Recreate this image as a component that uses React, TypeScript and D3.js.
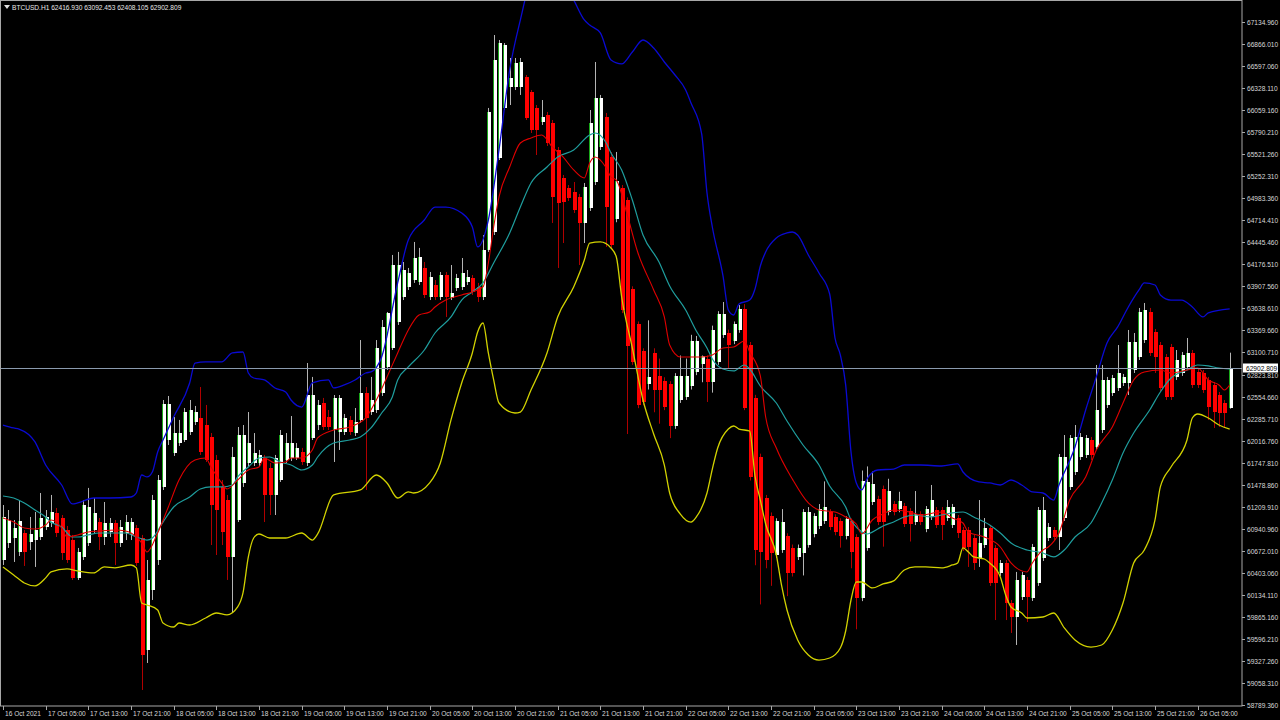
import React from 'react';
import * as d3 from 'd3';

// ---------- data ----------
const symbolTitle = 'BTCUSD.H1';
const lastOHLC = [62416.93, 63092.453, 62408.105, 62902.809];
const lastPrice = 62902.809;

// hourly candles: [open, high, low, close], first bar = 16 Oct 2021 21:00
const candles: [number, number, number, number][] = [
  [60558,61230,60497,61084],[60766,61169,60705,61047],[60827,61047,60534,60949],[60656,61291,60607,61035],
  [60888,60925,60485,60656],[60778,61084,60680,60876],[60802,61145,60473,60925],[60839,61377,60802,61071],
  [60961,61169,60925,61084],[61010,61353,60961,61145],[61133,61194,60839,60888],[61071,61108,60558,60644],
  [60925,60974,60522,60558],[60802,60864,60314,60339],[60339,60705,60314,60656],[60595,61291,60558,61230],
  [60766,61439,60729,61206],[60925,61316,60888,61133],[61022,61071,60680,60839],[60839,61267,60741,61010],
  [60900,61071,60839,61010],[61010,61047,60497,60766],[60766,61047,60717,60961],[60888,61108,60802,61022],
  [60864,61071,60802,61022],[60949,60986,60485,60522],[60827,60864,58969,59397],[59458,60558,59299,60314],
  [60191,61353,60069,61291],[60558,61597,60497,61536],[61451,62514,61414,62465],[62025,62563,61964,62465],
  [61866,62306,61830,62110],[61988,62270,61952,62110],[62025,62416,62001,62367],[62123,62514,62086,62392],
  [62245,62441,62208,62367],[62294,62673,61842,61879],[62208,62453,61756,61781],[62062,62110,60741,61230],
  [61781,61842,60619,61169],[61451,61536,60741,60900],[61291,61353,60314,60595],[60595,61940,59922,61817],
  [61047,62184,61022,62086],[61500,62208,61451,62086],[61744,62367,61707,61988],[61744,62110,61707,61866],
  [61744,61903,61707,61842],[61805,61842,61022,61353],[61683,61744,61108,61353],[61353,61842,61108,61805],
  [61536,62147,61512,62086],[61781,62110,61744,61988],[61805,62318,61768,61988],[61805,61988,61781,61928],
  [61879,61928,61719,61756],[61744,62966,61707,62575],[62050,62796,62025,62575],[62208,62514,62147,62453],
  [62477,62539,62147,62184],[62306,62392,62147,62184],[62147,62575,61756,62539],[62123,62575,61903,62539],
  [62123,62343,62086,62294],[62270,62318,62086,62123],[62110,62416,62074,62245],[62270,63247,62233,62600],
  [62600,62673,61414,62294],[62367,62796,62331,62514],[62392,63247,62355,63150],[62600,63492,62563,63407],
  [62918,63590,62881,63578],[63150,64287,63125,64164],[63468,64324,63431,64164],[63773,64201,63736,64103],
  [63896,64128,63859,64067],[63981,64446,63945,64250],[63957,64373,63920,64263],[64128,64201,63761,63798],
  [63773,64079,63736,64018],[63920,63981,63736,63773],[63773,64079,63736,64042],[64042,64079,63529,63773],
  [63761,64164,63736,63822],[63884,64055,63847,64006],[63896,64250,63859,64067],[63957,64103,63920,64018],
  [64006,64042,63798,63835],[63896,63945,63712,63773],[63773,64531,63736,64348],[64348,66084,64324,66035],
  [64568,66976,64531,66670],[65472,66915,65448,66878],[66084,66878,66059,66854],[66340,66695,66120,66450],
  [66340,66695,66304,66634],[66340,66695,66243,66646],[66463,66487,65937,65961],[66279,66304,65778,65815],
  [66084,66120,65509,65815],[65913,66181,65876,65974],[65998,66035,65619,65656],[65900,65937,64678,64996],
  [65570,65607,64128,64922],[65228,65265,64433,64935],[65106,65142,64947,64984],[65057,65179,64800,64837],
  [64996,65033,64164,64678],[64678,65167,64433,65118],[64861,66059,64825,65900],[65179,66646,65142,66206],
  [65607,66243,65570,66206],[65974,66023,64385,64873],[65482,65546,64371,64409],[64725,65546,64687,65192],
  [65104,65142,63576,63614],[64953,64991,62098,63172],[63867,63904,62944,62983],[63437,63474,62414,62451],
  [63109,63146,62451,62489],[62705,63488,62642,62792],[63083,63146,62364,62642],[62807,63020,62224,62642],
  [62744,62792,62390,62427],[62705,62744,62048,62199],[62199,62842,62161,62807],[62515,63058,62478,62807],
  [62552,63020,62515,62807],[62680,63311,62642,63234],[62856,63297,62818,63234],[62957,63058,62731,63046],
  [63020,63058,62490,62731],[62731,63423,62604,63374],[62983,63600,62944,63563],[63311,63712,63273,63563],
  [63336,63374,62895,63186],[63234,63474,63197,63437],[63374,63674,63336,63624],[63624,63686,62390,62415],
  [63186,63223,61530,61567],[62539,62577,60494,60681],[61820,61858,60015,60656],[61315,61353,60457,60557],
  [61101,61139,60242,60643],[60620,61068,60584,61030],[60684,61180,60645,61018],[60847,60884,60116,60393],
  [60709,60747,60356,60393],[60596,60747,60558,60709],[60646,61180,60369,61142],[60747,61205,60709,61142],
  [60873,61130,60835,61092],[60974,61242,60936,61180],[61036,61519,60999,61205],[61142,61180,60923,60961],
  [61080,61117,60860,60898],[61036,61068,60709,60847],[60847,61092,60810,61055],[61036,61068,60457,60658],
  [60835,60873,59711,60092],[60092,61652,60055,61526],[60709,61702,60671,61514],[61268,61639,61230,61489],
  [61305,61343,60985,61018],[61430,61468,60721,61018],[61142,61551,61104,61401],[61242,61280,61104,61142],
  [61180,61392,61142,61280],[61218,61255,60961,60998],[61154,61192,60784,60998],[61018,61401,60985,61117],
  [61117,61154,60985,61018],[60936,61218,60898,61180],[61084,61475,61047,61291],[61169,61206,60949,60986],
  [61169,61206,60802,60986],[61071,61291,61035,61206],[60986,61243,60949,61206],[61071,61108,60827,60888],
  [60925,60961,60668,60705],[60925,60961,60473,60717],[60827,60864,60436,60522],[60583,61291,60473,60766],
  [60741,61071,60705,60949],[60949,60986,60241,60277],[60705,60741,59824,60277],[60400,60558,60363,60522],
  [60522,60558,59824,60032],[60032,60069,59666,59861],[59861,60412,59519,60314],[60106,60412,60069,60375],
  [60314,60351,59800,60106],[60094,60754,60057,60717],[60277,61206,60241,61169],[60583,61328,60546,61169],
  [60827,61010,60790,60961],[60925,60961,60802,60839],[60839,61854,60680,61817],[61071,62086,61035,61817],
  [61451,62086,61414,62050],[61634,62208,61597,62062],[61817,62110,61781,62062],[61842,62086,61805,62050],
  [62025,62062,61781,61842],[61940,62942,61903,62392],[62147,62942,62110,62759],[62453,62796,62416,62759],
  [62600,62820,62563,62783],[62661,63186,62624,62844],[62722,62832,62685,62796],[62722,63370,62575,63223],
  [62881,63333,62844,63223],[63040,63639,63003,63590],[63247,63700,63211,63614],[63590,63639,63052,63089],
  [63345,63382,62844,63040],[63186,63223,62624,62661],[63040,63076,62514,62551],[63162,63199,62514,62551],
  [62796,63125,62759,63003],[62844,63101,62808,63064],[62918,63272,62881,63089],[63089,63125,62661,62698],
  [62857,62893,62661,62698],[62844,62881,62600,62637],[62759,62796,62270,62428],[62698,62734,62172,62367],
  [62575,62612,62184,62355],[62477,62514,62172,62355],[62416.93,63092.453,62408.105,62902.809],
];

// indicator lines: [bar index, price]
const upperBand: [number, number][] = [
  [0,62208],[2,62172],[3,62159],[6,62001],[8,61719],[11,61475],[13,61243],[14,61255],[17,61316],[20,61316],
  [24,61328],[25,61377],[26,61597],[27,61573],[28,61634],[29,61879],[30,62025],[32,62306],[35,62722],[36,62966],
  [38,62979],[41,62979],[43,63089],[45,63101],[46,62844],[47,62783],[49,62759],[51,62661],[53,62612],[54,62514],
  [56,62428],[58,62722],[61,62759],[62,62661],[64,62698],[66,62759],[68,62844],[69,62857],[71,63040],[74,63945],
  [76,64470],[79,64714],[81,64873],[83,64873],[86,64800],[88,64629],[89,64385],[91,64714],[93,65570],[95,66548],
  [97,67159],[99,67649],[102,67832],[104,67710],[107,67404],[109,67160],[110,67098],[112,67001],[114,66670],
  [116,66622],[118,66768],[120,66915],[122,66817],[124,66646],[126,66487],[128,66304],[129,66145],[131,65766],
  [132,65045],[133,64629],[135,64030],[136,63614],[137,63553],[138,63688],[140,63736],[141,63871],[142,64152],
  [143,64324],[145,64495],[147,64556],[148,64568],[149,64531],[151,64287],[153,64067],[155,63810],[156,63272],
  [157,63064],[158,62698],[159,61879],[160,61500],[161,61414],[162,61548],[164,61658],[167,61670],[169,61719],
  [172,61719],[176,61707],[179,61732],[180,61634],[183,61512],[185,61500],[187,61475],[189,61536],[191,61475],
  [193,61390],[195,61377],[197,61291],[198,61475],[201,61940],[203,62392],[205,62796],[207,63211],[209,63407],
  [211,63651],[213,63859],[214,63945],[216,63920],[217,63798],[219,63736],[221,63736],[223,63651],[225,63529],
  [226,63578],[230,63627],
];

const lowerBand: [number, number][] = [
  [0,60473],[2,60375],[4,60277],[6,60241],[8,60339],[9,60412],[12,60449],[14,60424],[17,60400],[19,60473],
  [21,60461],[24,60497],[25,60461],[26,60032],[27,60008],[29,59947],[30,59788],[32,59739],[33,59788],[35,59763],
  [38,59849],[40,59910],[42,59886],[44,59984],[45,60155],[46,60595],[47,60827],[48,60876],[50,60827],[53,60827],
  [56,60888],[58,60802],[59,60876],[62,61353],[67,61414],[70,61597],[72,61500],[74,61316],[76,61390],[77,61377],
  [80,61500],[82,61744],[84,62270],[86,62722],[88,63089],[89,63345],[90,63455],[91,63089],[92,62759],[93,62477],
  [96,62355],[97,62367],[99,62637],[102,63089],[104,63529],[107,63896],[109,64225],[110,64433],[112,64446],
  [114,64372],[115,64262],[116,63773],[118,63150],[120,62514],[122,62098],[124,61719],[125,61377],[127,61120],
  [129,61022],[130,61084],[132,61377],[133,61670],[134,61927],[136,62159],[137,62196],[138,62159],[140,62135],
  [141,61585],[142,61291],[143,60998],[145,60619],[146,60241],[147,59947],[149,59580],[151,59397],[153,59335],
  [155,59360],[157,59482],[158,59690],[159,60069],[160,60289],[161,60289],[163,60216],[165,60265],[167,60302],
  [169,60436],[171,60473],[173,60473],[176,60461],[178,60497],[179,60522],[180,60705],[181,60656],[182,60595],
  [184,60570],[185,60522],[187,60351],[188,60130],[189,59984],[191,59910],[192,59849],[195,59861],[197,59910],
  [199,59727],[201,59580],[204,59494],[206,59519],[208,59702],[210,60032],[212,60522],[214,60680],[216,61047],
  [217,61451],[219,61695],[222,62025],[223,62294],[224,62343],[226,62294],[228,62208],[230,62159],
];

const middleLine: [number, number][] = [
  [0,61340],[2,61316],[4,61255],[6,61169],[8,61084],[9,61022],[11,60961],[13,60839],[14,60839],[16,60864],
  [18,60888],[21,60888],[23,60888],[25,60839],[27,60802],[28,60827],[30,61022],[32,61206],[35,61328],[37,61426],
  [39,61451],[41,61451],[43,61475],[44,61573],[46,61695],[48,61805],[50,61817],[52,61756],[54,61719],[56,61658],
  [58,61719],[59,61817],[62,61988],[65,62025],[67,62062],[69,62172],[71,62355],[73,62551],[74,62759],[76,62918],
  [79,63125],[81,63333],[84,63529],[86,63736],[88,63835],[90,63945],[92,64189],[95,64556],[97,64873],[99,65167],
  [102,65362],[104,65485],[107,65570],[110,65754],[111,65778],[113,65668],[114,65534],[116,65326],[118,64959],
  [120,64531],[123,64201],[125,63908],[128,63614],[130,63358],[132,63150],[133,63015],[135,62893],[137,62869],
  [139,62942],[140,62893],[142,62685],[145,62477],[147,62257],[150,61964],[153,61719],[155,61463],[158,61206],
  [159,61047],[160,60961],[162,60876],[164,60937],[165,60974],[167,61022],[169,61084],[171,61108],[174,61084],
  [176,61108],[178,61133],[180,61145],[182,61084],[185,60986],[187,60888],[189,60766],[192,60680],[195,60644],
  [197,60595],[199,60680],[201,60839],[204,61010],[206,61255],[208,61536],[210,61866],[212,62110],[215,62392],
  [217,62612],[219,62783],[222,62881],[224,62942],[226,62930],[228,62905],[230,62893],
];

const fastLine: [number, number][] = [
  [0,61071],[2,61022],[4,60949],[6,60937],[8,60986],[9,61047],[11,60949],[12,60839],[14,60864],[16,60900],
  [18,60912],[21,60925],[23,60912],[24,60888],[26,60766],[27,60656],[29,60888],[31,61206],[33,61536],[36,61781],
  [38,61805],[39,61695],[41,61500],[42,61426],[44,61536],[46,61658],[48,61695],[49,61805],[51,61744],[53,61756],
  [54,61805],[56,61805],[58,61903],[59,62050],[62,62147],[65,62184],[68,62294],[70,62514],[72,62796],[74,63089],
  [76,63370],[78,63553],[80,63590],[81,63651],[83,63736],[86,63798],[88,63835],[90,63896],[91,64189],[92,64629],
  [93,64996],[95,65362],[97,65656],[99,65717],[101,65754],[103,65607],[105,65485],[107,65326],[109,65228],
  [110,65412],[111,65485],[113,65362],[114,65240],[115,65203],[117,64788],[119,64323],[122,63859],[124,63529],
  [125,63186],[127,63040],[129,63040],[131,63040],[133,63064],[135,63150],[137,63162],[139,63235],[140,63101],
  [142,62808],[143,62306],[145,61927],[148,61548],[151,61255],[153,61169],[156,61145],[158,61084],[160,60998],
  [161,60876],[163,61047],[165,61120],[167,61169],[170,61145],[172,61108],[176,61145],[178,61071],[180,61010],
  [181,60900],[184,60839],[187,60717],[189,60522],[192,60412],[193,60522],[195,60680],[196,60717],[198,60888],
  [200,61291],[203,61573],[205,61903],[208,62184],[210,62477],[212,62759],[214,62857],[217,62881],[219,62844],
  [222,62881],[224,62905],[226,62759],[228,62698],[229,62637],[230,62698],
];

const priceTicks = [
  67134.96, 66866.01, 66597.06, 66328.11, 66059.16, 65790.21, 65521.26, 65252.31, 64983.36, 64714.41,
  64445.46, 64176.51, 63907.56, 63638.61, 63369.66, 63100.71, 62823.81, 62554.66, 62285.71, 62016.76,
  61747.81, 61478.86, 61209.91, 60940.96, 60672.01, 60403.06, 60134.11, 59865.16, 59596.21, 59327.26,
  59058.31, 58789.36,
];

const timeLabels = [
  '16 Oct 2021', '17 Oct 05:00', '17 Oct 13:00', '17 Oct 21:00', '18 Oct 05:00', '18 Oct 13:00',
  '18 Oct 21:00', '19 Oct 05:00', '19 Oct 13:00', '19 Oct 21:00', '20 Oct 05:00', '20 Oct 13:00',
  '20 Oct 21:00', '21 Oct 05:00', '21 Oct 13:00', '21 Oct 21:00', '22 Oct 05:00', '22 Oct 13:00',
  '22 Oct 21:00', '23 Oct 05:00', '23 Oct 13:00', '23 Oct 21:00', '24 Oct 05:00', '24 Oct 13:00',
  '24 Oct 21:00', '25 Oct 05:00', '25 Oct 13:00', '25 Oct 21:00', '26 Oct 05:00',
];
const barsPerTimeLabel = 8;

// ---------- layout ----------
const W = 1280;
const H = 720;
const PLOT_RIGHT = 1242;
const PLOT_BOTTOM = 706;
const BAR_STEP = 16 / 3;
const FONT = "'Liberation Sans', Arial, sans-serif";
const FS = 6.6;

export default function App() {
  const n = candles.length;
  const x = d3.scaleLinear().domain([0, n - 1]).range([3, 3 + (n - 1) * BAR_STEP]);
  const y = d3
    .scaleLinear()
    .domain([58789.36, 67134.96])
    .range([22 + (67134.96 - 58789.36) / 12.225, 22]);

  const lineGen = d3
    .line<[number, number]>()
    .x((d) => x(d[0]))
    .y((d) => y(d[1]))
    .curve(d3.curveMonotoneX);

  const priceY = Math.round(y(lastPrice)) + 0.5;

  return (
    <div style={{ position: 'fixed', left: 0, top: 0, width: W, height: H, background: '#000' }}>
      <svg width={W} height={H} style={{ display: 'block', background: '#000' }} fontFamily={FONT}>
        <defs>
          <clipPath id="plotClip">
            <rect x={1} y={1} width={PLOT_RIGHT - 1} height={PLOT_BOTTOM - 1} />
          </clipPath>
        </defs>

        <g clipPath="url(#plotClip)">
          {/* candles */}
          {candles.map((c, i) => {
            const [o, h, l, cl] = c;
            const cx = Math.round(x(i));
            const bull = cl >= o;
            const top = Math.round(y(Math.max(o, cl)));
            const bot = Math.round(y(Math.min(o, cl)));
            const bh = Math.max(1, bot - top);
            return (
              <g key={i}>
                <line
                  x1={cx + 0.5}
                  x2={cx + 0.5}
                  y1={y(h)}
                  y2={y(l)}
                  stroke={bull ? '#b4b4b4' : '#b00000'}
                  strokeWidth={1}
                />
                {bull ? (
                  <>
                    <rect x={cx - 1} y={top} width={4} height={bh} fill="#ffffff" />
                    <rect x={cx - 1} y={top} width={1} height={bh} fill="#1aa81a" />
                  </>
                ) : (
                  <rect x={cx - 1} y={top} width={4} height={bh} fill="#ff0000" />
                )}
              </g>
            );
          })}

          {/* indicator lines */}
          <path d={lineGen(upperBand) || ''} fill="none" stroke="#0a0ad2" strokeWidth={1.3} />
          <path d={lineGen(lowerBand) || ''} fill="none" stroke="#d2d200" strokeWidth={1.3} />
          <path d={lineGen(middleLine) || ''} fill="none" stroke="#1f9e9e" strokeWidth={1.2} />
          <path d={lineGen(fastLine) || ''} fill="none" stroke="#e00000" strokeWidth={1.1} />

          {/* current price line */}
          <line x1={0} x2={PLOT_RIGHT} y1={priceY} y2={priceY} stroke="#8a9aae" strokeWidth={1} />
        </g>

        {/* frame */}
        <rect
          x={0.5}
          y={0.5}
          width={PLOT_RIGHT - 0.5}
          height={PLOT_BOTTOM - 0.5}
          fill="none"
          stroke="#a8a8a8"
          strokeWidth={1}
        />

        {/* price axis */}
        {priceTicks.map((v, k) => {
          const ty = Math.round(y(v)) + 0.5;
          return (
            <g key={'p' + k}>
              <line x1={PLOT_RIGHT} x2={PLOT_RIGHT + 3} y1={ty} y2={ty} stroke="#a8a8a8" />
              <text x={PLOT_RIGHT + 5} y={ty + 2.3} fontSize={FS} fill="#d8d8d8">
                {v.toFixed(3)}
              </text>
            </g>
          );
        })}

        {/* last price label */}
        <rect x={PLOT_RIGHT + 1} y={priceY - 5} width={W - PLOT_RIGHT - 3} height={9} fill="#ffffff" />
        <text x={PLOT_RIGHT + 4} y={priceY + 2.3} fontSize={FS} fill="#000000">
          {lastPrice.toFixed(3)}
        </text>

        {/* time axis */}
        {timeLabels.map((t, k) => {
          const tx = Math.round(x(k * barsPerTimeLabel)) + 0.5;
          return (
            <g key={'t' + k}>
              <line x1={tx} x2={tx} y1={PLOT_BOTTOM} y2={PLOT_BOTTOM + 4} stroke="#a8a8a8" />
              <text x={tx + 1.5} y={PLOT_BOTTOM + 10} fontSize={FS} fill="#d8d8d8">
                {t}
              </text>
            </g>
          );
        })}

        {/* title */}
        <path d="M4,5 L10,5 L7,9 Z" fill="#e0e0e0" />
        <text x={12} y={9.5} fontSize={FS} fill="#e8e8e8">
          {symbolTitle + '  ' + lastOHLC.map((v) => v.toFixed(3)).join(' ')}
        </text>
      </svg>
    </div>
  );
}
